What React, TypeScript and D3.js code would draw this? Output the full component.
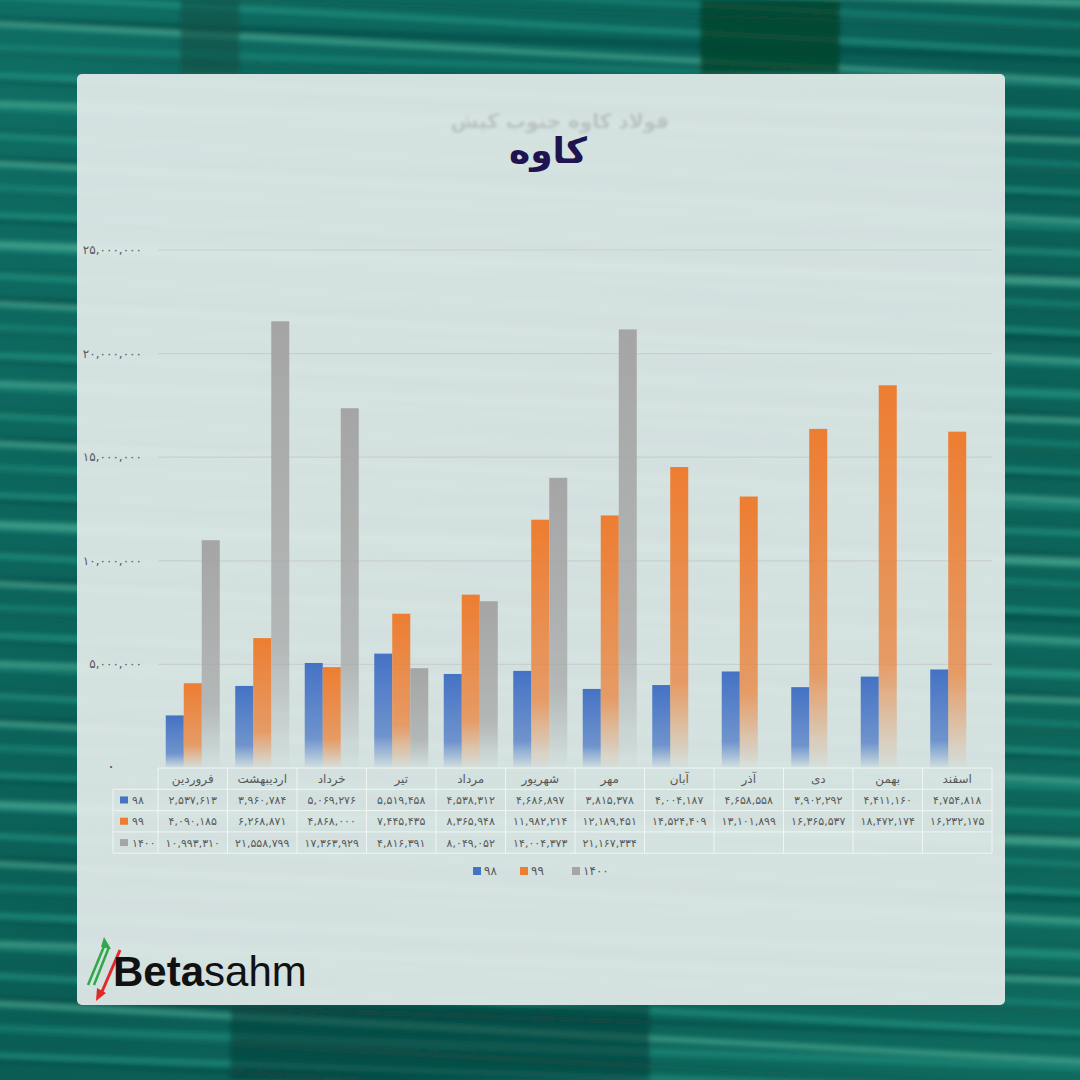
import React from 'react';
import * as d3 from 'd3';

const months = ['فروردین', 'اردیبهشت', 'خرداد', 'تیر', 'مرداد', 'شهریور', 'مهر', 'آبان', 'آذر', 'دی', 'بهمن', 'اسفند'];
const seriesNames = ['۹۸', '۹۹', '۱۴۰۰'];
const values98 = [2537613, 3960784, 5069276, 5519458, 4538312, 4686897, 3815378, 4004187, 4658558, 3902292, 4411160, 4754818];
const values99 = [4090185, 6268871, 4868000, 7445435, 8365948, 11982214, 12189451, 14524409, 13101899, 16365537, 18472174, 16232175];
const values1400 = [10993310, 21558799, 17363929, 4816391, 8049052, 14004373, 21167334, null, null, null, null, null];
const seriesColors = ['#4472c4', '#ed7d31', '#a5a5a5'];
const yTicks = [0, 5000000, 10000000, 15000000, 20000000, 25000000];

const allSeries = [values98, values99, values1400];

const faDigits = '۰۱۲۳۴۵۶۷۸۹';
const toFa = (s: string) => s.replace(/\d/g, (d) => faDigits[+d]);
const fmt = (v: number) => toFa(d3.format(',')(v));

const W = 1080;
const H = 1080;
const FONT = '"DejaVu Sans", sans-serif';

// plot frame
const plotLeft = 158;
const plotRight = 992;
const plotTop = 250;
const plotBottom = 768;
const rowH = 21.3;

const x = d3.scaleBand<string>().domain(months).range([plotLeft, plotRight]).paddingInner(0).paddingOuter(0);
const x1 = d3.scaleBand<string>().domain(seriesNames).range([0, x.bandwidth()]).paddingInner(0).paddingOuter(0.43);
const y = d3.scaleLinear().domain([0, 25000000]).range([plotBottom, plotTop]);

// decorative stripes for the teal backdrop
const stripeRows = d3.range(0, 80);
const stripeTints = ['#5cc0a4', '#1f8f80', '#0c5e54', '#2aa08c', '#094a44'];

const App: React.FC = () => {
  const tableTop = plotBottom;
  const tableLeft = 113;
  return (
    <svg
      width={W}
      height={H}
      viewBox={`0 0 ${W} ${H}`}
      style={{ position: 'absolute', left: 0, top: 0, display: 'block' }}
      fontFamily={FONT}
    >
      <defs>
        {seriesColors.map((c, i) => (
          <linearGradient key={i} id={`grad${i}`} x1="0" y1="0" x2="0" y2="1">
            <stop offset="0" stopColor={c} stopOpacity={1} />
            <stop offset="0.72" stopColor={c} stopOpacity={0.7} />
            <stop offset="1" stopColor={c} stopOpacity={0.02} />
          </linearGradient>
        ))}
        <linearGradient id="bg" x1="0" y1="0" x2="1" y2="1">
          <stop offset="0" stopColor="#0f6e64" />
          <stop offset="0.5" stopColor="#0a5d55" />
          <stop offset="1" stopColor="#0f6a5e" />
        </linearGradient>
        <filter id="blur">
          <feGaussianBlur stdDeviation="1.6" />
        </filter>
        <filter id="bgblur">
          <feGaussianBlur stdDeviation="2.5" />
        </filter>
      </defs>

      {/* backdrop */}
      <rect x={0} y={0} width={W} height={H} fill="url(#bg)" />
      <g filter="url(#bgblur)">
        {stripeRows.map((i) => (
          <rect
            key={i}
            x={-40}
            y={i * 14 - 20}
            width={W + 80}
            height={i % 4 === 0 ? 8 : 5}
            fill={stripeTints[i % stripeTints.length]}
            opacity={0.6}
            transform={`rotate(${i % 2 ? 3 : 2} 540 ${i * 14})`}
          />
        ))}
        <rect x={700} y={0} width={140} height={74} fill="#07452f" opacity={0.85} />
        <rect x={180} y={0} width={60} height={74} fill="#0b4f45" opacity={0.6} />
        <rect x={230} y={1005} width={420} height={75} fill="#0a3f3a" opacity={0.6} />
      </g>

      {/* panel */}
      <rect x={77} y={74} width={928} height={931} rx={5} fill="#e3ebe9" opacity={0.93} />

      {/* titles */}
      <text x={560} y={128} textAnchor="middle" fontSize={20} fontWeight="bold" fill="#b9c2c1" filter="url(#blur)">
        فولاد کاوه جنوب کیش
      </text>
      <text x={548} y={163} textAnchor="middle" fontSize={36} fontWeight="bold" fill="#1f1350">
        کاوه
      </text>

      {/* gridlines + y labels */}
      {yTicks.map((t) => (
        <g key={t}>
          {t > 0 && <line x1={plotLeft} x2={plotRight} y1={y(t)} y2={y(t)} stroke="#c9cfce" strokeWidth={1.2} />}
          <text
            x={t === 0 ? 111 : 142}
            y={y(t) + 4}
            textAnchor={t === 0 ? 'middle' : 'end'}
            fontSize={t === 0 ? 16 : 12}
            fill="#595959"
          >
            {fmt(t)}
          </text>
        </g>
      ))}

      {/* bars */}
      {months.map((m, mi) => (
        <g key={m} transform={`translate(${x(m)},0)`}>
          {allSeries.map((s, si) => {
            const v = s[mi];
            if (v == null) return null;
            return (
              <rect
                key={si}
                x={x1(seriesNames[si])}
                y={y(v)}
                width={x1.bandwidth()}
                height={y(0) - y(v)}
                fill={`url(#grad${si})`}
              />
            );
          })}
        </g>
      ))}

      {/* data table */}
      <g stroke="#f4f7f6" strokeWidth={1} opacity={0.9}>
        <line x1={plotLeft} x2={plotRight} y1={tableTop} y2={tableTop} />
        {d3.range(1, 5).map((r) => (
          <line key={r} x1={tableLeft} x2={plotRight} y1={tableTop + r * rowH} y2={tableTop + r * rowH} />
        ))}
        {months.map((m) => (
          <line key={m} x1={x(m)} x2={x(m)} y1={tableTop} y2={tableTop + 4 * rowH} />
        ))}
        <line x1={plotRight} x2={plotRight} y1={tableTop} y2={tableTop + 4 * rowH} />
        <line x1={tableLeft} x2={tableLeft} y1={tableTop + rowH} y2={tableTop + 4 * rowH} />
      </g>
      {months.map((m) => (
        <text
          key={m}
          x={(x(m) as number) + x.bandwidth() / 2}
          y={tableTop + rowH / 2 + 4}
          textAnchor="middle"
          fontSize={12}
          fill="#595959"
        >
          {m}
        </text>
      ))}
      {allSeries.map((s, si) => {
        const ry = tableTop + (si + 1) * rowH + rowH / 2;
        return (
          <g key={si}>
            <rect x={120} y={ry - 3.5} width={8} height={7} fill={seriesColors[si]} />
            <text x={132} y={ry + 4} fontSize={11} fill="#595959">
              {seriesNames[si]}
            </text>
            {months.map((m, mi) =>
              s[mi] == null ? null : (
                <text
                  key={m}
                  x={(x(m) as number) + x.bandwidth() / 2}
                  y={ry + 4}
                  textAnchor="middle"
                  fontSize={11}
                  fill="#595959"
                >
                  {fmt(s[mi] as number)}
                </text>
              )
            )}
          </g>
        );
      })}

      {/* legend */}
      {seriesNames.map((n, i) => {
        const lx = [473, 520, 572][i];
        return (
          <g key={n}>
            <rect x={lx} y={867} width={8} height={8} fill={seriesColors[i]} />
            <text x={lx + 11} y={875} fontSize={12} fill="#595959">
              {n}
            </text>
          </g>
        );
      })}

      {/* logo */}
      <g>
        <line x1={88} y1={985} x2={105} y2={944} stroke="#2fa84a" strokeWidth={2.5} />
        <line x1={94} y1={985} x2={109} y2={947} stroke="#2fa84a" strokeWidth={2.5} />
        <path d="M104,937 L111,949 L101,947 Z" fill="#2fa84a" />
        <line x1={120} y1={950} x2={101} y2={994} stroke="#e02a2a" strokeWidth={3} />
        <path d="M96,1001 L97,988 L106,993 Z" fill="#e02a2a" />
        <text x={113} y={986} fontSize={42} fontFamily='"Liberation Sans", Arial, sans-serif' fill="#111">
          <tspan fontWeight="bold">Beta</tspan>
          <tspan>sahm</tspan>
        </text>
      </g>
    </svg>
  );
};

export default App;
